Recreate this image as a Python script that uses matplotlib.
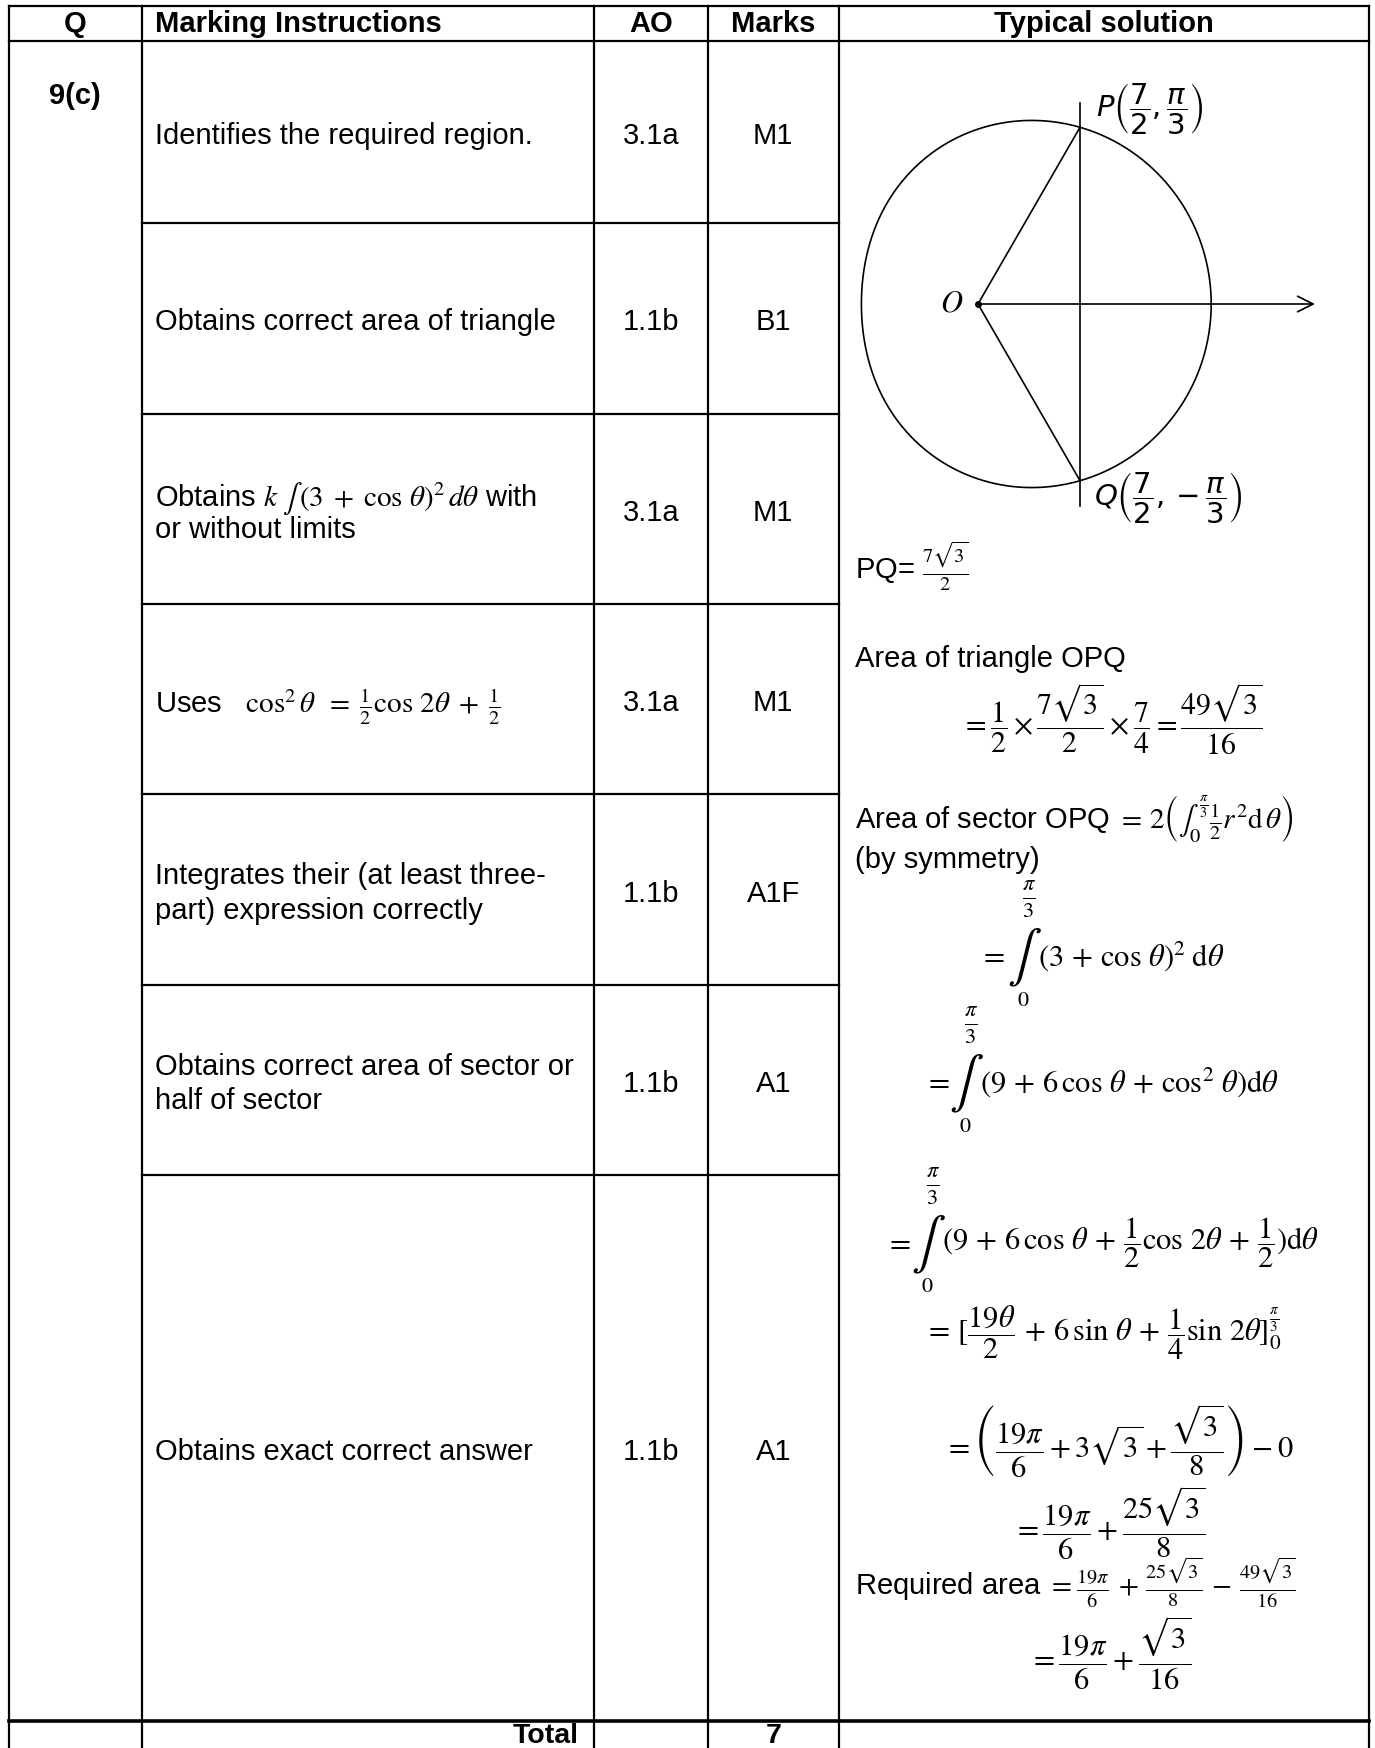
import numpy as np
import matplotlib
matplotlib.use("Agg")
import matplotlib.pyplot as plt

plt.rcParams['font.family'] = ['Liberation Sans', 'DejaVu Sans']
plt.rcParams['mathtext.fontset'] = 'stix'

# ---------------- data ----------------
headers = ['Q', 'Marking Instructions', 'AO', 'Marks', 'Typical solution']
question = '9(c)'
instructions = [
    ['Identifies the required region.'],
    ['Obtains correct area of triangle'],
    [r'Obtains $k\;\int\,(3\;+\;\cos\,\theta)^2\,d\theta$ with', 'or without limits'],
    [r'Uses   $\cos^2\theta\;\;=\;\frac{1}{2}\cos\,2\theta\;+\;\frac{1}{2}$'],
    ['Integrates their (at least three-', 'part) expression correctly'],
    ['Obtains correct area of sector or', 'half of sector'],
    ['Obtains exact correct answer'],
]
ao_codes = ['3.1a', '1.1b', '3.1a', '3.1a', '1.1b', '1.1b', '1.1b']
marks = ['M1', 'B1', 'M1', 'M1', 'A1F', 'A1', 'A1']
total_label = 'Total'
total_marks = '7'

# diagram: curve r = 3 + cos(theta), points P and Q (polar)
curve_a, curve_b = 3.0, 1.0
P_polar = (3.5, np.pi / 3)
Q_polar = (3.5, -np.pi / 3)

# ---------------- layout ----------------
W, H = 1375, 1748
FS = 21
MS = 22
col_x = [9, 141.6, 594, 708, 838.6, 1369]
row_y = [41, 223, 414, 604, 794, 985, 1175, 1721]
top_y = 6

fig = plt.figure(figsize=(W / 100, H / 100), dpi=100)
ax = fig.add_axes([0, 0, 1, 1])
ax.set_xlim(0, W)
ax.set_ylim(H, 0)
ax.axis('off')

lw = 1.6
kw = dict(color='black', lw=lw, solid_capstyle='projecting')
for x in col_x:
    ax.plot([x, x], [top_y, H + 20], **kw)
ax.plot([col_x[0], col_x[-1]], [top_y, top_y], **kw)
ax.plot([col_x[0], col_x[-1]], [row_y[0], row_y[0]], **kw)
for y in row_y[1:-1]:
    ax.plot([col_x[1], col_x[4]], [y, y], **kw)
ax.plot([col_x[0], col_x[-1]], [row_y[-1], row_y[-1]], color='black', lw=2.6)

# header
hy = (top_y + row_y[0]) / 2 + 1
ax.text((col_x[0] + col_x[1]) / 2, hy, headers[0], ha='center', va='center', fontsize=FS, fontweight='bold')
ax.text(col_x[1] + 13, hy, headers[1], ha='left', va='center', fontsize=FS, fontweight='bold')
ax.text((col_x[2] + col_x[3]) / 2, hy, headers[2], ha='center', va='center', fontsize=FS, fontweight='bold')
ax.text((col_x[3] + col_x[4]) / 2, hy, headers[3], ha='center', va='center', fontsize=FS, fontweight='bold')
ax.text((col_x[4] + col_x[5]) / 2, hy, headers[4], ha='center', va='center', fontsize=FS, fontweight='bold')

ax.text((col_x[0] + col_x[1]) / 2, 96, question, ha='center', va='center', fontsize=FS, fontweight='bold')

# body rows
for i in range(len(instructions)):
    cy = (row_y[i] + row_y[i + 1]) / 2 + 1
    lines = instructions[i]
    n = len(lines)
    for j, t in enumerate(lines):
        ly = cy + (j - (n - 1) / 2) * 34.5
        ax.text(col_x[1] + 13, ly, t, ha='left', va='center_baseline', fontsize=FS)
    ax.text((col_x[2] + col_x[3]) / 2, cy, ao_codes[i], ha='center', va='center_baseline', fontsize=FS)
    ax.text((col_x[3] + col_x[4]) / 2, cy, marks[i], ha='center', va='center_baseline', fontsize=FS)

ax.text(579, 1743, total_label, ha='right', va='baseline', fontsize=20.5, fontweight='bold')
ax.text((col_x[3] + col_x[4]) / 2, 1743, total_marks, ha='center', va='baseline', fontsize=20.5,
        fontweight='bold')

# ---------------- diagram ----------------
O_px = (978, 304)
s = 58.3
xl = (-2.6, 6.2)
yl = (-3.9, 3.8)
left = O_px[0] + xl[0] * s
right = O_px[0] + xl[1] * s
top = O_px[1] - yl[1] * s
bot = O_px[1] - yl[0] * s
dax = fig.add_axes([left / W, 1 - bot / H, (right - left) / W, (bot - top) / H])
dax.set_xlim(*xl)
dax.set_ylim(*yl)
dax.axis('off')
dax.patch.set_alpha(0)

th = np.linspace(0, 2 * np.pi, 1441)
rr = curve_a + curve_b * np.cos(th)
dax.plot(rr * np.cos(th), rr * np.sin(th), color='black', lw=1.2)
Px, Py = P_polar[0] * np.cos(P_polar[1]), P_polar[0] * np.sin(P_polar[1])
Qx, Qy = Q_polar[0] * np.cos(Q_polar[1]), Q_polar[0] * np.sin(Q_polar[1])
dax.plot([0, Px], [0, Py], color='black', lw=1.2)
dax.plot([0, Qx], [0, Qy], color='black', lw=1.2)
dax.plot([Px, Px], [-3.47, 3.45], color='black', lw=1.2)
dax.annotate('', xy=(5.78, 0), xytext=(0, 0),
             arrowprops=dict(arrowstyle='->', lw=1.2, color='black', mutation_scale=28,
                             shrinkA=0, shrinkB=0))
dax.plot([0], [0], 'o', color='black', ms=4)
dax.text(-0.45, 0.0, r'$O$', ha='center', va='center', fontsize=22, math_fontfamily='stix')
dax.text(Px + 0.28, Py + 0.30, r'$P\left(\dfrac{7}{2},\dfrac{\pi}{3}\right)$', ha='left', va='center',
         fontsize=21, math_fontfamily='dejavusans', clip_on=False)
dax.text(Qx + 0.24, Qy - 0.30, r'$Q\left(\dfrac{7}{2},-\dfrac{\pi}{3}\right)$', ha='left', va='center',
         fontsize=21, math_fontfamily='dejavusans', clip_on=False)

# ---------------- solution text ----------------
def T(x, y, t, fs=MS, ha='left', va='center'):
    ax.text(x, y, t, ha=ha, va=va, fontsize=fs)

T(855, 566, r'PQ= $\frac{7\sqrt{3}}{2}$', fs=FS)
T(855, 659, 'Area of triangle OPQ', fs=FS)
T(961, 719, r'$=\dfrac{1}{2}\times\dfrac{7\sqrt{3}}{2}\times\dfrac{7}{4}=\dfrac{49\sqrt{3}}{16}$', fs=21.5)
T(855, 819, r'Area of sector OPQ $=\,2\left(\int_0^{\frac{\pi}{3}}\frac{1}{2}r^2\mathrm{d}\,\theta\right)$', fs=FS)
T(855, 860, '(by symmetry)', fs=FS)


def integral_line(x_eq, x_int, y, body, lim_dy=56):
    T(x_eq, y, r'$=$')
    T(x_int, y + 2, r'$\int$', fs=37, ha='center')
    T(x_int + 5, y - lim_dy, r'$\frac{\pi}{3}$', fs=23, ha='center')
    T(x_int - 1, y + lim_dy - 12, r'$0$', fs=16, ha='center')
    T(x_int + 14, y, body)


integral_line(979, 1024, 956, r'$(3\,+\,\cos\,\theta)^2\;\mathrm{d}\theta$')
integral_line(924, 966, 1082, r'$(9\,+\,6\,\cos\,\theta\,+\,\cos^2\,\theta)\mathrm{d}\theta$')
integral_line(885, 928, 1243, r'$(9\,+\,6\,\cos\,\theta\,+\,\dfrac{1}{2}\cos\,2\theta\,+\,\dfrac{1}{2})\mathrm{d}\theta$')

T(924, 1333, r'$=\,[\dfrac{19\theta}{2}\,+\,6\,\sin\,\theta\,+\,\dfrac{1}{4}\sin\,2\theta]_0^{\frac{\pi}{3}}$')
T(944, 1441, r'$=\left(\dfrac{19\pi}{6}+3\sqrt{3}+\dfrac{\sqrt{3}}{8}\right)-0$')
T(1013, 1523, r'$=\dfrac{19\pi}{6}+\dfrac{25\sqrt{3}}{8}$')
T(855, 1583, r'Required area $=\frac{19\pi}{6}\,+\,\frac{25\sqrt{3}}{8}\,-\,\frac{49\sqrt{3}}{16}$', fs=FS)
T(1029, 1653, r'$=\dfrac{19\pi}{6}+\dfrac{\sqrt{3}}{16}$')

fig.savefig('out.png', dpi=100, facecolor='white')
